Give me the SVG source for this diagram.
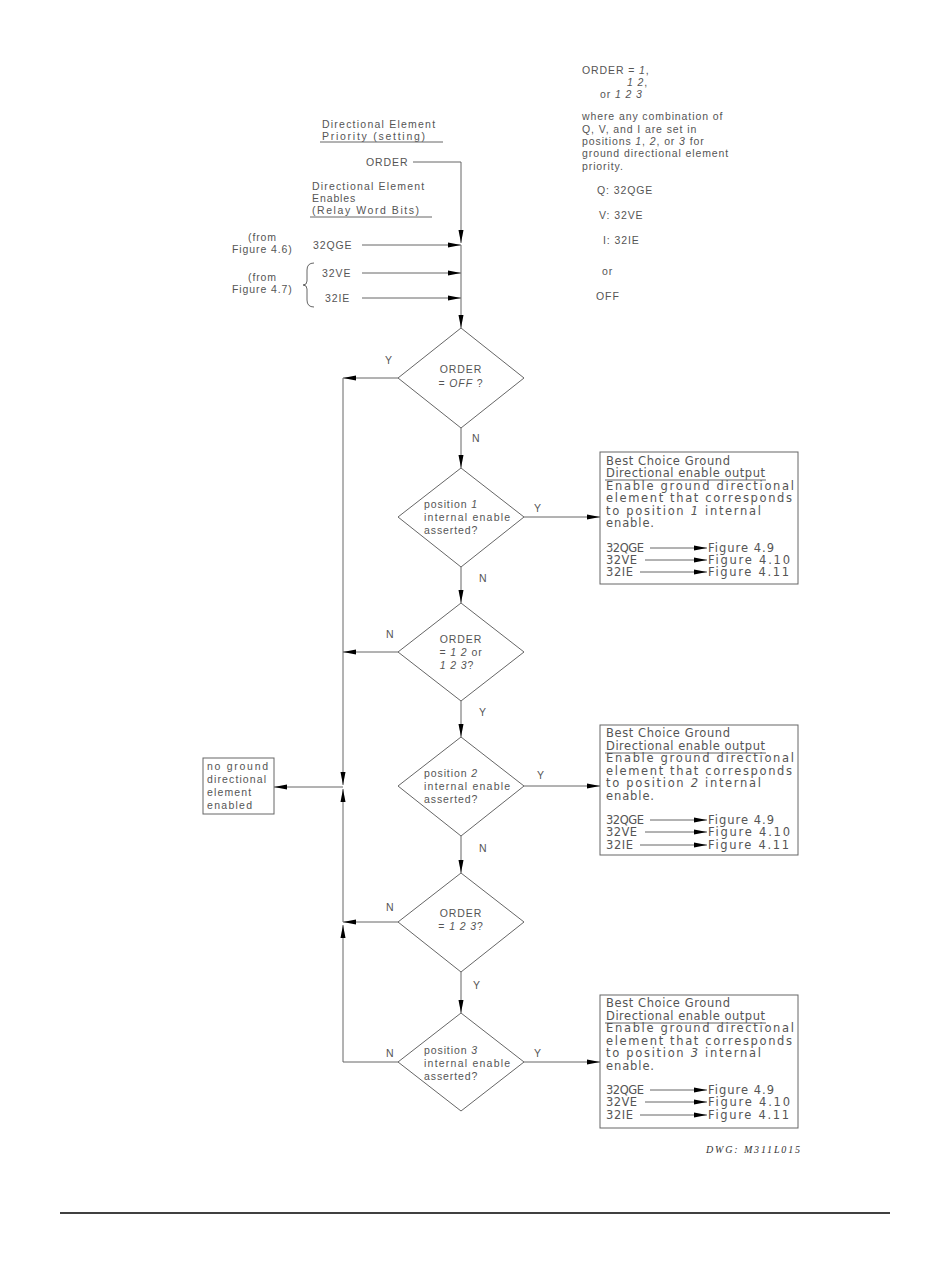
<svg xmlns="http://www.w3.org/2000/svg" width="950" height="1267" viewBox="0 0 950 1267">
<style>
text{font-family:"Liberation Sans",Arial,sans-serif;font-size:10.5px;fill:#555;letter-spacing:0.9px}
.b text{font-family:"DejaVu Sans",sans-serif;font-size:11.5px;letter-spacing:0}
.i{font-style:italic}
.m{text-anchor:middle}
.ln{stroke:#666;stroke-width:1;fill:none}
.sh{stroke:#666;stroke-width:1;fill:#fff}
.ul{stroke:#666;stroke-width:1}
</style>
<defs>
<marker id="ah" markerUnits="userSpaceOnUse" markerWidth="14" markerHeight="7" refX="13" refY="3" orient="auto">
<path d="M0,0.5 L13,3 L0,5.5 z" fill="#000"/>
</marker>
</defs>
<rect width="950" height="1267" fill="#fff"/>

<g id="inputs">
<text x="322" y="128" textLength="114">Directional Element</text>
<text x="322" y="140" textLength="104">Priority (setting)</text>
<line class="ul" x1="320" y1="142" x2="443" y2="142"/>
<text x="366" y="166">ORDER</text>
<text x="312" y="190" textLength="113">Directional Element</text>
<text x="312" y="202">Enables</text>
<text x="312" y="214" textLength="108">(Relay Word Bits)</text>
<line class="ul" x1="310" y1="217" x2="432" y2="217"/>
<text x="248" y="241">(from</text>
<text x="232" y="253">Figure 4.6)</text>
<text x="313" y="249">32QGE</text>
<text x="248" y="281">(from</text>
<text x="232" y="293">Figure 4.7)</text>
<path class="ln" d="M314,263 Q307,263 307,270 L307,281 Q307,285 303,285 Q307,285 307,289 L307,300 Q307,307 314,307"/>
<text x="322" y="277">32VE</text>
<text x="325" y="302">32IE</text>
</g>

<g id="notes">
<text x="582" y="74">ORDER = <tspan class="i">1</tspan>,</text>
<text x="627" y="86"><tspan class="i">1  2</tspan>,</text>
<text x="600" y="98">or <tspan class="i">1  2  3</tspan></text>
<text x="582" y="120">where any combination of</text>
<text x="582" y="133">Q, V, and I are set in</text>
<text x="582" y="145">positions <tspan class="i">1</tspan>, <tspan class="i">2</tspan>, or <tspan class="i">3</tspan>  for</text>
<text x="582" y="157">ground directional element</text>
<text x="582" y="170">priority.</text>
<text x="597" y="194">Q:   32QGE</text>
<text x="599" y="219">V:   32VE</text>
<text x="603" y="244">I:   32IE</text>
<text x="602" y="275">or</text>
<text x="596" y="300">OFF</text>
</g>

<g id="d1">
<polygon class="sh" points="461,328 524,378 461,428 398,378"/>
<text class="m" x="461" y="373">ORDER</text>
<text class="m" x="461" y="387">= <tspan class="i">OFF</tspan> ?</text>
</g>

<g id="d2">
<polygon class="sh" points="461,468 524,517 461,567 398,517"/>
<text x="424" y="508">position <tspan class="i">1</tspan></text>
<text x="424" y="521" textLength="87">internal enable</text>
<text x="424" y="534">asserted?</text>
</g>

<g id="d3">
<polygon class="sh" points="461,603 524,652 461,701 398,652"/>
<text class="m" x="461" y="643">ORDER</text>
<text class="m" x="461" y="656">= <tspan class="i">1  2</tspan> or</text>
<text class="m" x="457" y="669"><tspan class="i">1  2  3</tspan>?</text>
</g>

<g id="d4">
<polygon class="sh" points="461,737 524,786 461,836 398,786"/>
<text x="424" y="777">position <tspan class="i">2</tspan></text>
<text x="424" y="790" textLength="87">internal enable</text>
<text x="424" y="803">asserted?</text>
</g>

<g id="d5">
<polygon class="sh" points="461,873 524,922 461,972 398,922"/>
<text class="m" x="461" y="917">ORDER</text>
<text class="m" x="461" y="930">= <tspan class="i">1  2  3</tspan>?</text>
</g>

<g id="d6">
<polygon class="sh" points="461,1013 524,1062 461,1111 398,1062"/>
<text x="424" y="1054">position <tspan class="i">3</tspan></text>
<text x="424" y="1067" textLength="87">internal enable</text>
<text x="424" y="1080">asserted?</text>
</g>

<g id="nobox">
<rect class="sh" x="203" y="758" width="71" height="56"/>
<text x="207" y="770" textLength="62">no ground</text>
<text x="207" y="783" textLength="60">directional</text>
<text x="207" y="796" textLength="45">element</text>
<text x="207" y="809" textLength="46">enabled</text>
</g>

<g id="box1" class="b">
<rect class="sh" x="600" y="452" width="198" height="132"/>
<text x="606" y="465" textLength="124">Best Choice Ground</text>
<text x="606" y="477" textLength="159">Directional enable output</text>
<line class="ul" x1="605" y1="480" x2="766" y2="480"/>
<text x="606" y="490" textLength="188">Enable ground directional</text>
<text x="606" y="502" textLength="186">element that corresponds</text>
<text x="606" y="515" textLength="155">to position <tspan class="i">1</tspan> internal</text>
<text x="606" y="527" textLength="48">enable.</text>
<text x="606" y="552" textLength="38">32QGE</text>
<text x="606" y="564" textLength="31">32VE</text>
<text x="606" y="576" textLength="27">32IE</text>
<text x="708" y="552" textLength="66">Figure 4.9</text>
<text x="708" y="564" textLength="82">Figure 4.10</text>
<text x="708" y="576" textLength="81">Figure 4.11</text>
</g>

<g id="box2" class="b">
<rect class="sh" x="600" y="725" width="198" height="130"/>
<text x="606" y="737" textLength="124">Best Choice Ground</text>
<text x="606" y="750" textLength="159">Directional enable output</text>
<line class="ul" x1="605" y1="753" x2="766" y2="753"/>
<text x="606" y="762" textLength="188">Enable ground directional</text>
<text x="606" y="775" textLength="186">element that corresponds</text>
<text x="606" y="787" textLength="155">to position <tspan class="i">2</tspan> internal</text>
<text x="606" y="800" textLength="48">enable.</text>
<text x="606" y="824" textLength="38">32QGE</text>
<text x="606" y="836" textLength="31">32VE</text>
<text x="606" y="849" textLength="27">32IE</text>
<text x="708" y="824" textLength="66">Figure 4.9</text>
<text x="708" y="836" textLength="82">Figure 4.10</text>
<text x="708" y="849" textLength="81">Figure 4.11</text>
</g>

<g id="box3" class="b">
<rect class="sh" x="600" y="995" width="198" height="133"/>
<text x="606" y="1007" textLength="124">Best Choice Ground</text>
<text x="606" y="1020" textLength="159">Directional enable output</text>
<line class="ul" x1="605" y1="1023" x2="766" y2="1023"/>
<text x="606" y="1032" textLength="188">Enable ground directional</text>
<text x="606" y="1045" textLength="186">element that corresponds</text>
<text x="606" y="1057" textLength="155">to position <tspan class="i">3</tspan> internal</text>
<text x="606" y="1070" textLength="48">enable.</text>
<text x="606" y="1094" textLength="38">32QGE</text>
<text x="606" y="1106" textLength="31">32VE</text>
<text x="606" y="1119" textLength="27">32IE</text>
<text x="708" y="1094" textLength="66">Figure 4.9</text>
<text x="708" y="1106" textLength="82">Figure 4.10</text>
<text x="708" y="1119" textLength="81">Figure 4.11</text>
</g>

<g id="connectors">
<polyline class="ln" points="413,162 461,162 461,243" marker-end="url(#ah)"/>
<line class="ln" x1="362" y1="245" x2="461" y2="245" marker-end="url(#ah)"/>
<line class="ln" x1="362" y1="273" x2="461" y2="273" marker-end="url(#ah)"/>
<line class="ln" x1="362" y1="298" x2="461" y2="298" marker-end="url(#ah)"/>
<line class="ln" x1="461" y1="245" x2="461" y2="328" marker-end="url(#ah)"/>
<line class="ln" x1="398" y1="378" x2="343" y2="378" marker-end="url(#ah)"/>
<line class="ln" x1="343" y1="378" x2="343" y2="785" marker-end="url(#ah)"/>
<line class="ln" x1="461" y1="428" x2="461" y2="468" marker-end="url(#ah)"/>
<line class="ln" x1="524" y1="517" x2="600" y2="517" marker-end="url(#ah)"/>
<line class="ln" x1="461" y1="567" x2="461" y2="603" marker-end="url(#ah)"/>
<line class="ln" x1="398" y1="652" x2="343" y2="652" marker-end="url(#ah)"/>
<line class="ln" x1="461" y1="701" x2="461" y2="737" marker-end="url(#ah)"/>
<line class="ln" x1="524" y1="786" x2="600" y2="786" marker-end="url(#ah)"/>
<line class="ln" x1="343" y1="787" x2="274" y2="787" marker-end="url(#ah)"/>
<line class="ln" x1="461" y1="836" x2="461" y2="873" marker-end="url(#ah)"/>
<line class="ln" x1="398" y1="922" x2="343" y2="922" marker-end="url(#ah)"/>
<line class="ln" x1="343" y1="922" x2="343" y2="789" marker-end="url(#ah)"/>
<line class="ln" x1="461" y1="972" x2="461" y2="1013" marker-end="url(#ah)"/>
<polyline class="ln" points="398,1062 343,1062 343,925" marker-end="url(#ah)"/>
<line class="ln" x1="524" y1="1062" x2="600" y2="1062" marker-end="url(#ah)"/>
<line class="ln" x1="650" y1="548" x2="707" y2="548" marker-end="url(#ah)"/>
<line class="ln" x1="645" y1="560" x2="707" y2="560" marker-end="url(#ah)"/>
<line class="ln" x1="640" y1="572" x2="707" y2="572" marker-end="url(#ah)"/>
<line class="ln" x1="650" y1="820" x2="707" y2="820" marker-end="url(#ah)"/>
<line class="ln" x1="645" y1="832" x2="707" y2="832" marker-end="url(#ah)"/>
<line class="ln" x1="640" y1="845" x2="707" y2="845" marker-end="url(#ah)"/>
<line class="ln" x1="650" y1="1090" x2="707" y2="1090" marker-end="url(#ah)"/>
<line class="ln" x1="645" y1="1102" x2="707" y2="1102" marker-end="url(#ah)"/>
<line class="ln" x1="640" y1="1115" x2="707" y2="1115" marker-end="url(#ah)"/>
</g>

<g id="labels">
<text x="385" y="364">Y</text>
<text x="472" y="442">N</text>
<text x="534" y="512">Y</text>
<text x="479" y="582">N</text>
<text x="386" y="638">N</text>
<text x="479" y="716">Y</text>
<text x="537" y="779">Y</text>
<text x="479" y="852">N</text>
<text x="386" y="911">N</text>
<text x="473" y="989">Y</text>
<text x="386" y="1057">N</text>
<text x="534" y="1057">Y</text>
</g>

<text x="706" y="1153" textLength="94" style="font-family:'Liberation Serif',serif;font-style:italic;font-size:10px;fill:#333;letter-spacing:0">DWG:   M311L015</text>
<line x1="60" y1="1213" x2="890" y2="1213" stroke="#000" stroke-width="1.5"/>
</svg>
